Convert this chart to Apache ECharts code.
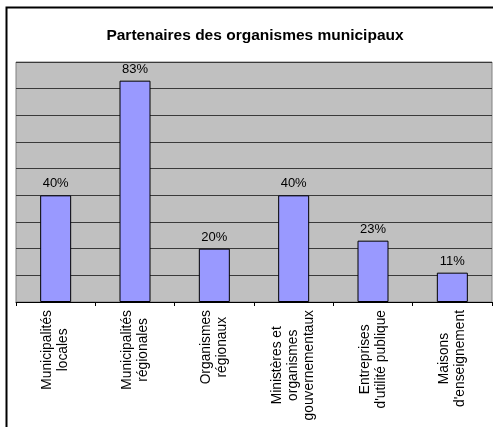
<!DOCTYPE html>
<html>
<head>
<meta charset="utf-8">
<script src="https://cdn.jsdelivr.net/npm/echarts@6/dist/echarts.min.js"></script>
<style>
  html, body { margin: 0; padding: 0; background: #fff; }
  #chart { width: 493px; height: 427px; }
</style>
</head>
<body>
<div id="chart"></div>
<script>
// données du graphique
var categories = [
  "Municipalités\nlocales",
  "Municipalités\nrégionales",
  "Organismes\nrégionaux",
  "Ministères et\norganismes\ngouvernementaux",
  "Entreprises\nd'utilité publique",
  "Maisons\nd'enseignement"
];
var values = [40, 83, 20, 40, 23, 11];
var yMax = 90;
var yStep = 10;

var chart = echarts.init(document.getElementById("chart"));
chart.setOption({
  animation: false,
  textStyle: { fontFamily: "Liberation Sans" },
  title: {
    text: "Partenaires des organismes municipaux",
    left: 250,
    textAlign: "center",
    top: 23,
    textStyle: { fontSize: 15.5, fontWeight: "bold", color: "#000" }
  },
  graphic: [
    {
      type: "polyline",
      shape: { points: [[6.5, 430], [6.5, 7.5], [500, 7.5]] },
      style: { stroke: "#000", lineWidth: 2, fill: null }
    }
  ],
  grid: {
    left: 16,
    right: 1,
    top: 62,
    bottom: 125,
    show: true,
    backgroundColor: "#c0c0c0",
    borderColor: "#808080",
    borderWidth: 1
  },
  xAxis: {
    type: "category",
    data: categories,
    axisLine: { lineStyle: { color: "#000", width: 1 } },
    axisTick: { show: true, length: 4, lineStyle: { color: "#000" } },
    axisLabel: {
      interval: 0,
      rotate: 90,
      margin: 8,
      color: "#000",
      fontSize: 13.5,
      lineHeight: 16,
      formatter: function (v) {
        return v.split("\n").map(function (s) { return "{c|" + s + "}"; }).join("\n");
      },
      rich: {
        c: { align: "center", fontSize: 13.8, lineHeight: 16, color: "#000" }
      }
    }
  },
  yAxis: {
    type: "value",
    min: 0,
    max: yMax,
    interval: yStep,
    axisLabel: { show: false },
    axisLine: { show: false },
    axisTick: { show: false },
    splitLine: { lineStyle: { color: "#3a3a3a", width: 1 } }
  },
  series: [
    {
      type: "bar",
      data: values,
      barWidth: 31,
      itemStyle: { color: "#9999ff", borderColor: "#000", borderWidth: 1 },
      label: {
        show: true,
        position: "top",
        distance: 5,
        formatter: "{c}%",
        color: "#000",
        fontSize: 13
      }
    }
  ]
});
</script>
</body>
</html>
